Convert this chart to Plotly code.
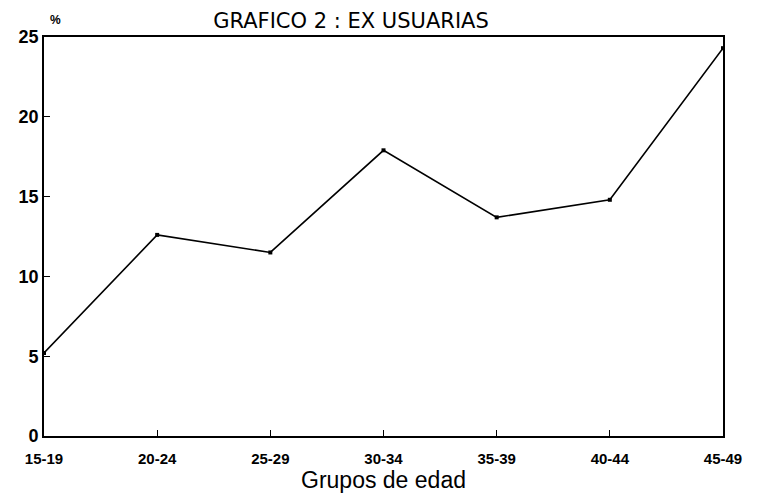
import plotly.graph_objects as go

categories = ["15-19", "20-24", "25-29", "30-34", "35-39", "40-44", "45-49"]
ex_usuarias = [5.2, 12.6, 11.5, 17.9, 13.7, 14.8, 24.3]
y_ticks = [0, 5, 10, 15, 20, 25]

fig = go.Figure()
fig.add_trace(go.Scatter(
    x=categories, y=ex_usuarias, mode="lines+markers",
    line=dict(color="black", width=1.6),
    marker=dict(color="black", size=4, symbol="square"),
    showlegend=False, cliponaxis=False,
))

fig.update_layout(
    width=764, height=499,
    margin=dict(l=44, r=41, t=37, b=63, autoexpand=False),
    paper_bgcolor="white", plot_bgcolor="white",
    font=dict(family="Liberation Sans, Arial, sans-serif", color="black"),
    title=dict(text="GRAFICO 2 : EX USUARIAS", x=351 / 764, xanchor="center",
               y=1 - 21 / 499, yanchor="middle", automargin=False,
               font=dict(family="DejaVu Sans, sans-serif", size=21, color="black")),
    annotations=[
        dict(text="<b>%</b>", xref="paper", yref="paper", x=(55 - 44) / 679,
             y=1 + (37 - 20) / 399, showarrow=False, xanchor="center", yanchor="middle",
             font=dict(size=12, color="black")),
    ],
)

fig.update_xaxes(
    type="category", range=[0, 6], automargin=False,
    showline=True, linecolor="black", linewidth=1.6, mirror=True,
    ticks="inside", ticklen=6, tickcolor="black", tickwidth=1.2,
    showgrid=False, zeroline=False,
    tickfont=dict(size=15, family="Liberation Sans, Arial, sans-serif", weight="bold"),
    ticklabelstandoff=8,
    title=dict(text="Grupos de edad", font=dict(size=23, family="Liberation Sans, Arial, sans-serif"),
               standoff=0),
)
fig.update_yaxes(
    range=[0, 25], tickvals=y_ticks, automargin=False,
    showline=True, linecolor="black", linewidth=1.6, mirror=True,
    ticks="inside", ticklen=6, tickcolor="black", tickwidth=1.2,
    showgrid=False, zeroline=False,
    tickfont=dict(size=18, family="Liberation Sans, Arial, sans-serif", weight="bold"),
)

fig.write_html("out.html", config={"displayModeBar": False},
               post_script="document.body.style.margin='0';document.body.style.overflow='hidden';")
